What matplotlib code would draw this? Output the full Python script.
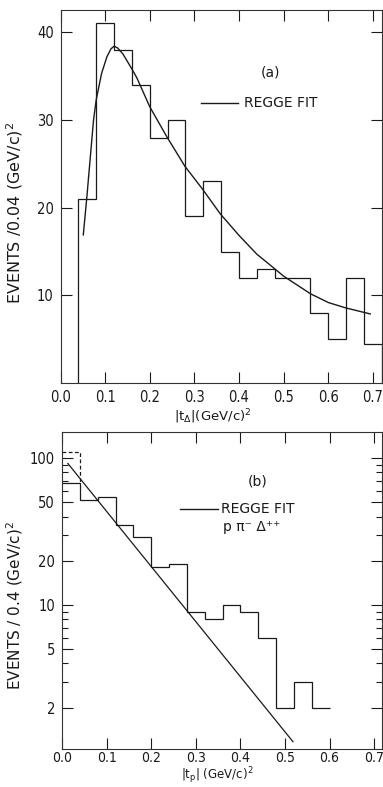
import numpy as np
import matplotlib
matplotlib.use("Agg")
import matplotlib.pyplot as plt
from matplotlib.ticker import FixedLocator, NullFormatter

# =========================
# panel (a): |t_delta| distribution, bins of 0.04
# =========================
edges_a = [0.04, 0.08, 0.12, 0.16, 0.20, 0.24, 0.28, 0.32, 0.36, 0.40,
           0.44, 0.48, 0.52, 0.56, 0.60, 0.64, 0.68, 0.72]
counts_a = [21, 41, 38, 34, 28, 30, 19, 23, 15, 12, 13, 12, 12, 8, 5, 12, 4.5]

fit_a_x = [0.051, 0.059, 0.074, 0.080, 0.092, 0.104, 0.113, 0.120, 0.128,
           0.140, 0.160, 0.171, 0.200, 0.238, 0.279, 0.317, 0.358, 0.399,
           0.440, 0.481, 0.500, 0.560, 0.600, 0.638, 0.694]
fit_a_y = [16.9, 21.2, 30.0, 32.3, 35.3, 37.2, 38.1, 38.4, 38.2,
           37.5, 35.8, 34.8, 31.5, 28.1, 24.7, 22.2, 19.3, 16.9,
           14.7, 13.0, 12.2, 10.2, 9.2, 8.6, 7.9]

# =========================
# panel (b): |t_p| distribution, log scale
# =========================
edges_b = [0.0, 0.04, 0.08, 0.12, 0.16, 0.20, 0.24, 0.28, 0.32, 0.36,
           0.40, 0.44, 0.48, 0.52, 0.56, 0.60]
counts_b = [68, 52, 54, 35, 29, 18, 19, 9, 8, 10, 9, 6, 2, 3, 2]
dashed_b = 110  # dashed first bin

fit_b_x = [0.013, 0.518]
fit_b_y = [92.0, 1.17]

INK = "#1a1a1a"
plt.rcParams["font.family"] = ["DejaVu Sans"]
plt.rcParams["mathtext.default"] = "regular"

fig = plt.figure(figsize=(3.83, 7.87), dpi=100)
ax1 = fig.add_axes([0.158, 0.513, 0.839, 0.474])
ax2 = fig.add_axes([0.162, 0.048, 0.8346, 0.4027])

xt = [0.0, 0.1, 0.2, 0.3, 0.4, 0.5, 0.6, 0.7]


def style_ticks(labels, size):
    for lab in labels:
        lab.set_fontstretch("condensed")
        lab.set_fontsize(size)
        lab.set_color(INK)


for ax in (ax1, ax2):
    for s in ax.spines.values():
        s.set_linewidth(0.8)
        s.set_color("#333333")
    ax.tick_params(which="both", direction="in", top=True, right=True,
                   color=INK, width=0.8)
    ax.tick_params(which="major", length=8)
    ax.tick_params(which="minor", length=4)
    ax.set_xticks(xt)
    ax.set_xticklabels([f"{v:.1f}" for v in xt])

# ---- panel (a)
ax1.stairs(counts_a, edges_a, baseline=0, color=INK, lw=0.9)
ax1.plot(fit_a_x, fit_a_y, color=INK, lw=1.0)
ax1.set_xlim(0, 0.72)
ax1.set_ylim(0, 42.5)
ax1.set_yticks([10, 20, 30, 40])
ax1.set_yticklabels(["10", "20", "30", "40"])
style_ticks(ax1.get_xticklabels() + ax1.get_yticklabels(), 10.5)
ax1.tick_params(axis="x", pad=5)
ax1.tick_params(axis="y", pad=5)

ax1.text(0.652, 0.832, "(a)", transform=ax1.transAxes, ha="center",
         va="center", fontsize=10, color=INK)
ax1.plot([0.438, 0.552], [0.750, 0.750], transform=ax1.transAxes,
         color=INK, lw=1.0)
ax1.text(0.571, 0.750, "REGGE FIT", transform=ax1.transAxes, ha="left",
         va="center", fontsize=10, color=INK)

ax1.set_ylabel("EVENTS /0.04 (GeV/c)$^2$", fontsize=11.5, color=INK)
ax1.yaxis.set_label_coords(-0.110, 0.458)
ax1.set_xlabel(r"$|t_{\Delta}|$(GeV/c)$^2$", fontsize=9.5, color=INK)
ax1.xaxis.set_label_coords(0.475, -0.064)

# ---- panel (b)
ax2.set_yscale("log")
ax2.stairs(counts_b, edges_b, baseline=None, color=INK, lw=0.9)
ax2.plot([edges_b[0], edges_b[1], edges_b[1]],
         [dashed_b, dashed_b, counts_b[0]], color=INK, lw=0.9, ls=(0, (3, 2)))
ax2.plot(fit_b_x, fit_b_y, color=INK, lw=0.9)
ax2.set_xlim(0, 0.717)
ax2.set_ylim(1.04, 150)
major_b = [2, 5, 10, 20, 50, 100]
minor_b = [3, 4, 6, 7, 8, 9, 30, 40, 60, 70, 80, 90]
ax2.yaxis.set_major_locator(FixedLocator(major_b))
ax2.yaxis.set_minor_locator(FixedLocator(minor_b))
ax2.yaxis.set_minor_formatter(NullFormatter())
ax2.set_yticklabels([str(v) for v in major_b])
style_ticks(ax2.get_yticklabels(), 10.5)
style_ticks(ax2.get_xticklabels(), 10)
ax2.tick_params(axis="x", pad=1)
ax2.tick_params(axis="y", pad=5)

ax2.text(0.613, 0.846, "(b)", transform=ax2.transAxes, ha="center",
         va="center", fontsize=10, color=INK)
ax2.plot([0.369, 0.488], [0.757, 0.757], transform=ax2.transAxes,
         color=INK, lw=1.0)
ax2.text(0.497, 0.757, "REGGE FIT", transform=ax2.transAxes, ha="left",
         va="center", fontsize=10, color=INK)
ax2.text(0.504, 0.701, "p π⁻ Δ⁺⁺", transform=ax2.transAxes, ha="left",
         va="center", fontsize=10, color=INK)

ax2.set_ylabel("EVENTS / 0.4 (GeV/c)$^2$", fontsize=11, color=INK)
ax2.yaxis.set_label_coords(-0.116, 0.452)
ax2.set_xlabel(r"$|t_{p}|$ (GeV/c)$^2$", fontsize=8.5, color=INK)
ax2.xaxis.set_label_coords(0.485, -0.051)

fig.savefig("out.png", dpi=100)
